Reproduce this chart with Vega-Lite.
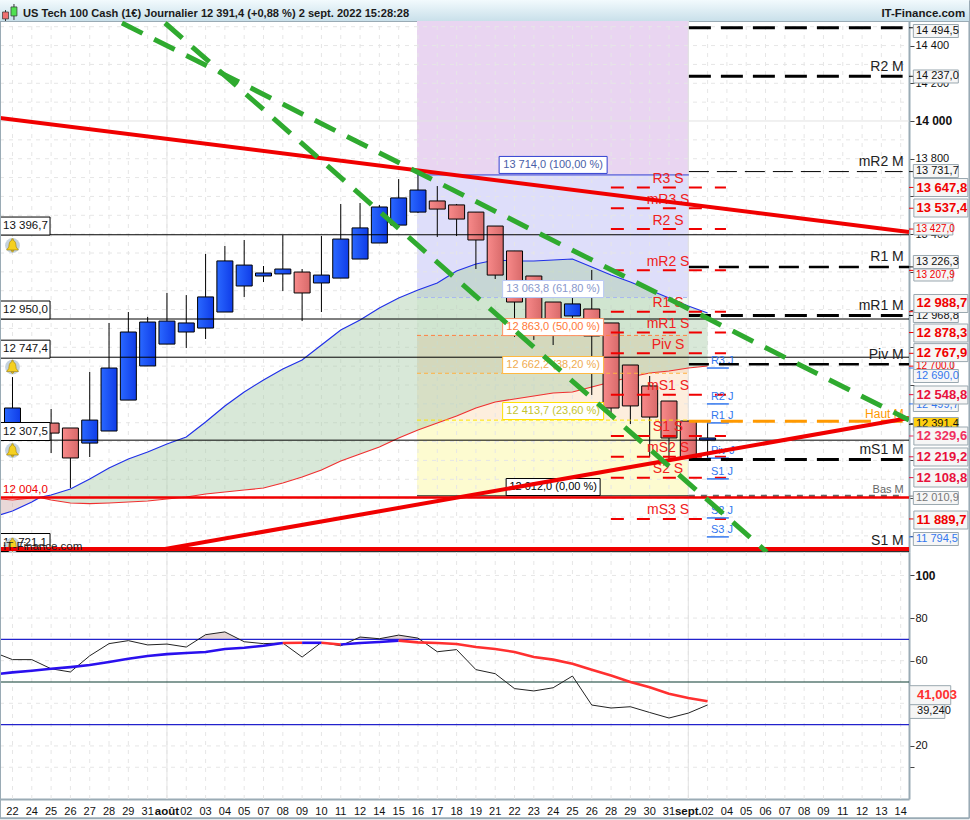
{
  "$schema": "https://vega.github.io/schema/vega-lite/v6.json",
  "background": "white",
  "padding": {"left": -6, "top": -1, "right": 0, "bottom": 0},
  "spacing": 0,
  "bounds": "flush",
  "resolve": {"scale": {"color": "independent"}},
  "config": {
    "view": {"stroke": null},
    "text": {"font": "Liberation Sans"},
    "axis": {"labelFont": "Liberation Sans"}
  },
  "datasets": {
    "slots": [{"i":0,"label":"22"},{"i":1,"label":"24"},{"i":2,"label":"25"},{"i":3,"label":"26"},{"i":4,"label":"27"},{"i":5,"label":"28"},{"i":6,"label":"29"},{"i":7,"label":"31"},{"i":8,"label":"août"},{"i":9,"label":"02"},{"i":10,"label":"03"},{"i":11,"label":"04"},{"i":12,"label":"05"},{"i":13,"label":"07"},{"i":14,"label":"08"},{"i":15,"label":"09"},{"i":16,"label":"10"},{"i":17,"label":"11"},{"i":18,"label":"12"},{"i":19,"label":"14"},{"i":20,"label":"15"},{"i":21,"label":"16"},{"i":22,"label":"17"},{"i":23,"label":"18"},{"i":24,"label":"19"},{"i":25,"label":"21"},{"i":26,"label":"22"},{"i":27,"label":"23"},{"i":28,"label":"24"},{"i":29,"label":"25"},{"i":30,"label":"26"},{"i":31,"label":"28"},{"i":32,"label":"29"},{"i":33,"label":"30"},{"i":34,"label":"31"},{"i":35,"label":"sept."},{"i":36,"label":"02"},{"i":37,"label":"04"},{"i":38,"label":"05"},{"i":39,"label":"06"},{"i":40,"label":"07"},{"i":41,"label":"08"},{"i":42,"label":"09"},{"i":43,"label":"11"},{"i":44,"label":"12"},{"i":45,"label":"13"},{"i":46,"label":"14"}],
    "candles": [
      {"i":0,"high":12642,"low":12361,"open":12388,"close":12478},
      {"i":1,"high":12404,"low":12330,"open":12393,"close":12351},
      {"i":2,"high":12473,"low":12239,"open":12398,"close":12345},
      {"i":3,"high":12372,"low":12054,"open":12372,"close":12213},
      {"i":4,"high":12669,"low":12218,"open":12292,"close":12414},
      {"i":5,"high":12929,"low":12356,"open":12356,"close":12690},
      {"i":6,"high":12987,"low":12520,"open":12520,"close":12881},
      {"i":7,"high":12961,"low":12701,"open":12701,"close":12934},
      {"i":8,"high":13088,"low":12817,"open":12817,"close":12939},
      {"i":9,"high":13077,"low":12796,"open":12881,"close":12929},
      {"i":10,"high":13295,"low":12844,"open":12902,"close":13067},
      {"i":11,"high":13337,"low":12987,"open":12987,"close":13258},
      {"i":12,"high":13369,"low":13067,"open":13125,"close":13236},
      {"i":13,"high":13231,"low":13146,"open":13178,"close":13194},
      {"i":14,"high":13395,"low":13098,"open":13189,"close":13215},
      {"i":15,"high":13215,"low":12939,"open":13199,"close":13088},
      {"i":16,"high":13390,"low":12987,"open":13141,"close":13183},
      {"i":17,"high":13560,"low":13167,"open":13167,"close":13374},
      {"i":18,"high":13565,"low":13268,"open":13268,"close":13433},
      {"i":19,"high":13555,"low":13353,"open":13353,"close":13544},
      {"i":20,"high":13692,"low":13448,"open":13448,"close":13592},
      {"i":21,"high":13724,"low":13512,"open":13517,"close":13634},
      {"i":22,"high":13655,"low":13385,"open":13576,"close":13533},
      {"i":23,"high":13560,"low":13390,"open":13555,"close":13480},
      {"i":24,"high":13517,"low":13215,"open":13517,"close":13369},
      {"i":25,"high":13443,"low":13162,"open":13443,"close":13183},
      {"i":26,"high":13311,"low":12855,"open":13311,"close":13040},
      {"i":27,"high":13178,"low":12839,"open":13178,"close":12945},
      {"i":28,"high":13040,"low":12812,"open":13040,"close":12945},
      {"i":29,"high":13114,"low":12892,"open":12966,"close":13030},
      {"i":30,"high":13210,"low":12547,"open":13003,"close":12860},
      {"i":31,"high":12929,"low":12425,"open":12929,"close":12478},
      {"i":32,"high":12706,"low":12393,"open":12706,"close":12489},
      {"i":33,"high":12648,"low":12218,"open":12595,"close":12430},
      {"i":34,"high":12515,"low":12202,"open":12515,"close":12319},
      {"i":35,"high":12409,"low":12213,"open":12409,"close":12213},
      {"i":36,"high":12409,"low":12202,"open":12308,"close":12319}
    ],
    "averages": [
      {"i":-0.647,"blue":11910.6,"red":11995.5},{"i":0,"blue":11931.8,"red":11990.2},{"i":1,"blue":11979.5,"red":12000.8},{"i":1.42,"blue":12004,"red":12004},
      {"i":2,"blue":12016.7,"red":11990.2},{"i":3,"blue":12048.5,"red":11974.3},{"i":4,"blue":12101.5,"red":11971},{"i":5,"blue":12159.9,"red":11974.3},
      {"i":6,"blue":12207.6,"red":11979.5},{"i":7,"blue":12244.7,"red":11984.8},{"i":8,"blue":12287.2,"red":11995.5},{"i":9,"blue":12324.3,"red":12006.1},
      {"i":10,"blue":12403.8,"red":12022},{"i":11,"blue":12488.7,"red":12032.6},{"i":12,"blue":12562.9,"red":12043.2},{"i":13,"blue":12626.5,"red":12053.8},
      {"i":14,"blue":12684.9,"red":12080.3},{"i":15,"blue":12732.6,"red":12112.1},{"i":16,"blue":12812.1,"red":12149.2},{"i":17,"blue":12891.7,"red":12197},
      {"i":18,"blue":12944.7,"red":12234.1},{"i":19,"blue":13008.3,"red":12271.2},{"i":20,"blue":13061.4,"red":12319},{"i":21,"blue":13103.8,"red":12361.4},
      {"i":22,"blue":13140.9,"red":12398.5},{"i":23,"blue":13204.6,"red":12435.6},{"i":24,"blue":13241.7,"red":12478},{"i":25,"blue":13262.9,"red":12509.9},
      {"i":26,"blue":13257.6,"red":12525.8},{"i":27,"blue":13257.6,"red":12541.7},{"i":28,"blue":13262.9,"red":12557.6},{"i":29,"blue":13268.2,"red":12562.9},
      {"i":30,"blue":13225.8,"red":12589.4},{"i":31,"blue":13183.3,"red":12615.9},{"i":32,"blue":13146.2,"red":12642.4},{"i":33,"blue":13103.8,"red":12663.6},
      {"i":34,"blue":13061.4,"red":12674.2},{"i":35,"blue":13018.9,"red":12690.1},{"i":36,"blue":12981.8,"red":12700.7}
    ],
    "fibZones": [
      {"kind":"z0","p":13714,"p2":14530},
      {"kind":"z1","p":13063.8,"p2":13714},
      {"kind":"z2","p":12863,"p2":13063.8},
      {"kind":"z3","p":12662.2,"p2":12863},
      {"kind":"z4","p":12413.7,"p2":12662.2},
      {"kind":"z5","p":12012,"p2":12413.7}
    ],
    "fibLevels": [
      {"kind":"f100","p":13714},{"kind":"f618","p":13063.8},{"kind":"f50","p":12863},{"kind":"f382","p":12662.2},{"kind":"f236","p":12413.7},{"kind":"f0","p":12012}
    ],
    "fibLabels": [
      {"label":"13 714,0 (100,00 %)","p":13767,"kind":"f100"},
      {"label":"13 063,8 (61,80 %)","p":13109,"kind":"f618"},
      {"label":"12 863,0 (50,00 %)","p":12907,"kind":"f50"},
      {"label":"12 662,2 (38,20 %)","p":12706,"kind":"f382"},
      {"label":"12 413,7 (23,60 %)","p":12462,"kind":"f236"},
      {"label":"12 012,0 (0,00 %)","p":12059,"kind":"f0"}
    ],
    "weekly": [
      {"label":"R3 S","p":13647.8},{"label":"mR3 S","p":13537.4},{"label":"R2 S","p":13427},{"label":"mR2 S","p":13207.9},
      {"label":"R1 S","p":12988.7},{"label":"mR1 S","p":12878.3},{"label":"Piv S","p":12767.9},{"label":"mS1 S","p":12548.8},
      {"label":"S1 S","p":12329.6},{"label":"mS2 S","p":12219.2},{"label":"S2 S","p":12108.8},{"label":"mS3 S","p":11889.7}
    ],
    "daily": [
      {"label":"R3 J","p":12690},{"label":"R2 J","p":12499.7},{"label":"R1 J","p":12399},{"label":"Piv J","p":12212},
      {"label":"S1 J","p":12102},{"label":"S2 J","p":11895},{"label":"S3 J","p":11794.5}
    ],
    "monthly": [
      {"label":"","p":14494.5,"style":"wide"},{"label":"R2 M","p":14237,"style":"wide"},{"label":"mR2 M","p":13731.7,"style":"thin"},
      {"label":"R1 M","p":13226.3,"style":"mid"},{"label":"mR1 M","p":12968.8,"style":"wide"},{"label":"Piv M","p":12710,"style":"mid"},
      {"label":"mS1 M","p":12205,"style":"wide"},{"label":"S1 M","p":11721.1,"style":"none"}
    ],
    "solidLevels": [{"p":13396.7},{"p":12950},{"p":12747.4},{"p":12307.5},{"p":11716}],
    "leftTags": [
      {"label":"13 396,7","p":13443},{"label":"12 950,0","p":12997.7},{"label":"12 747,4","p":12790},{"label":"12 307,5","p":12353.4},{"label":"11 721,1","p":11764.7}
    ],
    "bells": [{"p":13339.7},{"p":12695},{"p":12252.6},{"p":11752}],
    "trends": [
      {"line":"upper","i":-0.647,"p":14015.9},{"line":"upper","i":46.43,"p":13411.4},
      {"line":"lower","i":7.9,"p":11730},{"line":"lower","i":46.43,"p":12425}
    ],
    "greens": [
      {"line":"a","i":5.67,"p":14519.7},{"line":"a","i":46.43,"p":12414.4},
      {"line":"b","i":7.9,"p":14519.7},{"line":"b","i":39.07,"p":11714}
    ],
    "tags": [
      {"label":"13 427,0","p":13427.3,"level":13427,"kind":"red","size":"small"},
      {"label":"13 207,9","p":13183.3,"level":13207.9,"kind":"red","size":"small"},
      {"label":"12 700,0","p":12700.7,"level":12700,"kind":"red","size":"small"},
      {"label":"14 494,5","p":14477.3,"level":14494.5,"kind":"black","size":"regular"},
      {"label":"14 237,0","p":14236,"level":14237,"kind":"black","size":"regular"},
      {"label":"13 731,7","p":13734.8,"level":13731.7,"kind":"black","size":"regular"},
      {"label":"13 226,3","p":13252.3,"level":13226.3,"kind":"black","size":"regular"},
      {"label":"12 968,8","p":12965.9,"level":12968.8,"kind":"black","size":"regular"},
      {"label":"12 690,0","p":12647.7,"level":12690,"kind":"blue","size":"regular"},
      {"label":"12 499,7","p":12493.9,"level":12499.7,"kind":"blue","size":"regular"},
      {"label":"12 010,9","p":12000.8,"level":12010.9,"kind":"grey","size":"regular"},
      {"label":"11 794,5","p":11783.3,"level":11794.5,"kind":"blue","size":"regular"},
      {"label":"12 391,4","p":12393.2,"level":12391.4,"kind":"black","size":"gold"},
      {"label":"13 647,8","p":13647.3,"level":13647.8,"kind":"red","size":"bold"},
      {"label":"13 537,4","p":13538.6,"level":13537.4,"kind":"red","size":"bold"},
      {"label":"12 988,7","p":13032.2,"level":12988.7,"kind":"red","size":"bold"},
      {"label":"12 878,3","p":12875.7,"level":12878.3,"kind":"red","size":"bold"},
      {"label":"12 767,9","p":12771.8,"level":12767.9,"kind":"red","size":"bold"},
      {"label":"12 548,8","p":12547,"level":12548.8,"kind":"crimson","size":"bold"},
      {"label":"12 329,6","p":12329.5,"level":12329.6,"kind":"pink","size":"bold"},
      {"label":"12 219,2","p":12218.2,"level":12219.2,"kind":"crimson","size":"bold"},
      {"label":"12 108,8","p":12106.8,"level":12108.8,"kind":"crimson","size":"bold"},
      {"label":"11 889,7","p":11884,"level":11889.7,"kind":"red","size":"bold"}
    ],
    "rsi": [
      {"i":-0.647,"p":62.8},{"i":0,"p":60.5},{"i":1,"p":60.5},{"i":2,"p":56.2},{"i":3,"p":54.7},{"i":4,"p":62.3},{"i":5,"p":68},{"i":6,"p":69.4},
      {"i":7,"p":67.4},{"i":8,"p":67.8},{"i":9,"p":66.4},{"i":10,"p":72.2},{"i":11,"p":73.5},{"i":12,"p":68.9},{"i":13,"p":68},{"i":14,"p":68.3},
      {"i":15,"p":61.7},{"i":16,"p":68.6},{"i":17,"p":67},{"i":18,"p":71.1},{"i":19,"p":70.3},{"i":20,"p":72},{"i":21,"p":70.6},{"i":22,"p":64.2},
      {"i":23,"p":65.2},{"i":24,"p":55.8},{"i":25,"p":53.9},{"i":26,"p":46.9},{"i":27,"p":45.8},{"i":28,"p":47.3},{"i":29,"p":52.8},{"i":30,"p":39.2},
      {"i":31,"p":37.8},{"i":32,"p":38.4},{"i":33,"p":35.7},{"i":34,"p":33.1},{"i":35,"p":35.4},{"i":36,"p":39.24}
    ],
    "rsiOver": [
      {"seg":"a","i":9.6,"p":70},{"seg":"a","i":10,"p":72.2},{"seg":"a","i":11,"p":73.5},{"seg":"a","i":11.76,"p":70},
      {"seg":"b","i":17.75,"p":70},{"seg":"b","i":18,"p":71.1},{"seg":"b","i":19,"p":70.3},{"seg":"b","i":20,"p":72},{"seg":"b","i":21,"p":70.6},{"seg":"b","i":21.1,"p":70}
    ],
    "signal": [
      {"seg":1,"kind":"blue","i":-0.647,"p":53.9},{"seg":1,"kind":"blue","i":0,"p":54.5},{"seg":1,"kind":"blue","i":1,"p":55.3},{"seg":1,"kind":"blue","i":2,"p":56.2},
      {"seg":1,"kind":"blue","i":3,"p":57},{"seg":1,"kind":"blue","i":4,"p":58},{"seg":1,"kind":"blue","i":5,"p":59.4},{"seg":1,"kind":"blue","i":6,"p":60.9},
      {"seg":1,"kind":"blue","i":7,"p":62.2},{"seg":1,"kind":"blue","i":8,"p":63.1},{"seg":1,"kind":"blue","i":9,"p":63.6},{"seg":1,"kind":"blue","i":10,"p":64.1},
      {"seg":1,"kind":"blue","i":11,"p":65.5},{"seg":1,"kind":"blue","i":12,"p":66.1},{"seg":1,"kind":"blue","i":13,"p":67},{"seg":1,"kind":"blue","i":14,"p":68.3},
      {"seg":2,"kind":"red","i":14,"p":68.3},{"seg":2,"kind":"red","i":15,"p":68.4},
      {"seg":3,"kind":"blue","i":15,"p":68.4},{"seg":3,"kind":"blue","i":16,"p":68.4},
      {"seg":4,"kind":"red","i":16,"p":68.4},{"seg":4,"kind":"red","i":17,"p":67.6},
      {"seg":5,"kind":"blue","i":17,"p":67.6},{"seg":5,"kind":"blue","i":18,"p":68.3},{"seg":5,"kind":"blue","i":19,"p":68.8},{"seg":5,"kind":"blue","i":20,"p":69.4},
      {"seg":6,"kind":"red","i":20,"p":69.4},{"seg":6,"kind":"red","i":21,"p":68.6},{"seg":6,"kind":"red","i":22,"p":68.3},{"seg":6,"kind":"red","i":23,"p":67.8},
      {"seg":6,"kind":"red","i":24,"p":66.4},{"seg":6,"kind":"red","i":25,"p":65.5},{"seg":6,"kind":"red","i":26,"p":64.1},{"seg":6,"kind":"red","i":27,"p":61.7},
      {"seg":6,"kind":"red","i":28,"p":60.5},{"seg":6,"kind":"red","i":29,"p":58.6},{"seg":6,"kind":"red","i":30,"p":55.8},{"seg":6,"kind":"red","i":31,"p":53},
      {"seg":6,"kind":"red","i":32,"p":50},{"seg":6,"kind":"red","i":33,"p":47.5},{"seg":6,"kind":"red","i":34,"p":44.5},{"seg":6,"kind":"red","i":35,"p":42.5},
      {"seg":6,"kind":"red","i":36,"p":41.003}
    ]
  },
  "vconcat": [
    {
      "width": 969,
      "height": 21,
      "view": {"stroke": "#9aabb5"},
      "layer": [
        {
          "data": {"values": [{"from": 0, "to": 100}]},
          "mark": {"type": "rect", "color": {"gradient": "linear", "x1": 0, "y1": 0, "x2": 0, "y2": 1, "stops": [{"offset": 0, "color": "#f2fafd"}, {"offset": 1, "color": "#c9e0ea"}]}},
          "encoding": {
            "x": {"field": "from", "type": "quantitative", "scale": {"domain": [0, 100], "nice": false, "zero": false, "padding": 0}, "axis": null},
            "x2": {"field": "to"}
          }
        },
        {
          "data": {"values": [{"pos": 0.57, "low": 0, "high": 52}, {"pos": 1.44, "low": 5, "high": 81}]},
          "mark": {"type": "rule", "color": "#333333"},
          "encoding": {
            "x": {"field": "pos", "type": "quantitative", "axis": null},
            "y": {"field": "low", "type": "quantitative", "scale": {"domain": [0, 100]}, "axis": null},
            "y2": {"field": "high"}
          }
        },
        {
          "data": {"values": [{"pos": 0.57, "open": 43, "close": 10, "kind": "r"}, {"pos": 1.44, "open": 67, "close": 24, "kind": "g"}]},
          "mark": {"type": "bar", "size": 6, "stroke": "#333333", "strokeWidth": 0.7},
          "encoding": {
            "x": {"field": "pos", "type": "quantitative", "axis": null},
            "y": {"field": "open", "type": "quantitative", "axis": null},
            "y2": {"field": "close"},
            "color": {"field": "kind", "type": "nominal", "scale": {"domain": ["r", "g"], "range": ["#f07070", "#50e050"]}, "legend": null}
          }
        },
        {
          "data": {"values": [{"pos": 2.37, "label": "US Tech 100 Cash (1€) Journalier 12 391,4 (+0,88 %) 2 sept. 2022 15:28:28"}]},
          "mark": {"type": "text", "align": "left", "baseline": "middle", "fontWeight": "bold", "fontSize": 11.1, "color": "#1a1a1a", "dy": 3.5},
          "encoding": {"x": {"field": "pos", "type": "quantitative", "axis": null}, "text": {"field": "label"}}
        },
        {
          "data": {"values": [{"pos": 99.6, "label": "IT-Finance.com"}]},
          "mark": {"type": "text", "align": "right", "baseline": "middle", "fontWeight": "bold", "fontSize": 11.5, "color": "#1a1a1a", "dy": 3.5},
          "encoding": {"x": {"field": "pos", "type": "quantitative", "axis": null}, "text": {"field": "label"}}
        }
      ]
    },
    {
      "width": 909,
      "height": 531,
      "layer": [
        {
          "data": {"name": "fibZones"},
          "mark": {"type": "rect", "opacity": 1},
          "encoding": {
            "x": {"datum": 20.95, "type": "quantitative", "scale": {"domain": [-0.647, 46.43], "nice": false, "zero": false, "padding": 0}, "axis": null},
            "x2": {"datum": 35.03},
            "y": {
              "field": "p",
              "type": "quantitative",
              "scale": {"domain": [11714.4, 14530.3], "nice": false, "zero": false},
              "axis": {
                "orient": "right",
                "title": null,
                "grid": false,
                "values": [14400, 14200, 14000, 13800, 13600, 13400, 13200, 13000, 12800, 12600, 12400, 12200, 12000, 11800],
                "labelExpr": "indexof([14400,14200,14000,13800,13400],datum.value)<0?'':floor(datum.value/1000)+' '+slice(toString(datum.value),-3)",
                "labelFontSize": {"condition": {"test": "datum.value==14000", "value": 12}, "value": 11},
                "labelFontWeight": {"condition": {"test": "datum.value==14000", "value": "bold"}, "value": "normal"},
                "labelColor": "#111111",
                "labelPadding": 1,
                "labelOverlap": false,
                "labelBound": false,
                "tickSize": 5,
                "tickColor": "#444444",
                "domainColor": "#9aabb5",
                "domainWidth": 2
              }
            },
            "y2": {"field": "p2"},
            "color": {
              "field": "kind",
              "type": "nominal",
              "legend": null,
              "scale": {
                "domain": ["z0", "z1", "z2", "z3", "z4", "z5", "f100", "f618", "f50", "f382", "f236", "f0", "red", "crimson", "pink", "black", "blue", "grey"],
                "range": ["#e9d5f1", "#dedefa", "#f0faf0", "#f8e2cc", "#fdeedd", "#fdfbd0", "#3040d0", "#a8b8f0", "#ff8040", "#ffb040", "#ffe000", "#000000", "#f00000", "#e8103c", "#f03060", "#111111", "#3377ee", "#777777"]
              }
            }
          }
        },
        {
          "data": {"values": [{"p":11800},{"p":11900},{"p":12000},{"p":12100},{"p":12200},{"p":12300},{"p":12400},{"p":12500},{"p":12600},{"p":12700},{"p":12800},{"p":12900},{"p":13000},{"p":13100},{"p":13200},{"p":13300},{"p":13400},{"p":13500},{"p":13600},{"p":13700},{"p":13800},{"p":13900},{"p":14100},{"p":14200},{"p":14300},{"p":14400},{"p":14500}]},
          "mark": {"type": "rule", "color": "#e6e6e6", "strokeDash": [4, 5]},
          "encoding": {"x": {"datum": -0.647, "type": "quantitative", "axis": null}, "x2": {"datum": 46.43}, "y": {"field": "p", "type": "quantitative"}}
        },
        {
          "data": {"values": [{"p": 14000}]},
          "mark": {"type": "rule", "color": "#e2e2e2"},
          "encoding": {"x": {"datum": -0.647, "type": "quantitative", "axis": null}, "x2": {"datum": 46.43}, "y": {"field": "p", "type": "quantitative"}}
        },
        {
          "data": {"name": "slots"},
          "mark": {"type": "rule", "color": "#e6e6e6", "strokeDash": [4, 5]},
          "encoding": {"x": {"field": "i", "type": "quantitative", "axis": null}, "y": {"datum": 11714.4, "type": "quantitative"}, "y2": {"datum": 14530.3}}
        },
        {
          "data": {"values": [{"i": 8}, {"i": 35}]},
          "mark": {"type": "rule", "color": "#e2e2e2"},
          "encoding": {"x": {"field": "i", "type": "quantitative", "axis": null}, "y": {"datum": 11714.4, "type": "quantitative"}, "y2": {"datum": 14530.3}}
        },
        {
          "data": {"name": "averages"},
          "transform": [{"filter": "datum.i >= 1.42"}],
          "mark": {"type": "area", "color": "#a8cca8", "opacity": 0.45},
          "encoding": {"x": {"field": "i", "type": "quantitative", "axis": null}, "y": {"field": "blue", "type": "quantitative"}, "y2": {"field": "red"}}
        },
        {
          "data": {"name": "averages"},
          "transform": [{"filter": "datum.i <= 1.42"}],
          "mark": {"type": "area", "color": "#cfa8a8", "opacity": 0.45},
          "encoding": {"x": {"field": "i", "type": "quantitative", "axis": null}, "y": {"field": "blue", "type": "quantitative"}, "y2": {"field": "red"}}
        },
        {
          "data": {"name": "averages"},
          "mark": {"type": "line", "color": "#2030e8", "strokeWidth": 1.2},
          "encoding": {"x": {"field": "i", "type": "quantitative", "axis": null}, "y": {"field": "blue", "type": "quantitative"}}
        },
        {
          "data": {"name": "averages"},
          "mark": {"type": "line", "color": "#f03030", "strokeWidth": 1.2},
          "encoding": {"x": {"field": "i", "type": "quantitative", "axis": null}, "y": {"field": "red", "type": "quantitative"}}
        },
        {
          "data": {"name": "candles"},
          "mark": {"type": "rule", "color": "#000000", "strokeWidth": 1},
          "encoding": {"x": {"field": "i", "type": "quantitative", "axis": null}, "y": {"field": "low", "type": "quantitative"}, "y2": {"field": "high"}}
        },
        {
          "data": {"name": "candles"},
          "transform": [{"filter": "datum.close > datum.open"}],
          "mark": {"type": "bar", "size": 16, "stroke": "#000000", "strokeWidth": 1, "color": {"gradient": "linear", "x1": 0, "y1": 0, "x2": 1, "y2": 0, "stops": [{"offset": 0, "color": "#2a68ff"}, {"offset": 1, "color": "#0f3ce8"}]}},
          "encoding": {"x": {"field": "i", "type": "quantitative", "axis": null}, "y": {"field": "open", "type": "quantitative"}, "y2": {"field": "close"}}
        },
        {
          "data": {"name": "candles"},
          "transform": [{"filter": "datum.close < datum.open"}],
          "mark": {"type": "bar", "size": 16, "stroke": "#000000", "strokeWidth": 1, "color": {"gradient": "linear", "x1": 0, "y1": 0, "x2": 1, "y2": 0, "stops": [{"offset": 0, "color": "#f88a8a"}, {"offset": 1, "color": "#d86a6a"}]}},
          "encoding": {"x": {"field": "i", "type": "quantitative", "axis": null}, "y": {"field": "open", "type": "quantitative"}, "y2": {"field": "close"}}
        },
        {
          "data": {"name": "solidLevels"},
          "mark": {"type": "rule", "color": "#000000", "strokeWidth": 1},
          "encoding": {"x": {"datum": -0.647, "type": "quantitative", "axis": null}, "x2": {"datum": 46.43}, "y": {"field": "p", "type": "quantitative"}}
        },
        {
          "data": {"name": "fibLevels"},
          "transform": [{"filter": "datum.kind == 'f100' || datum.kind == 'f0'"}],
          "mark": {"type": "rule", "strokeWidth": 1},
          "encoding": {"x": {"datum": 20.95, "type": "quantitative", "axis": null}, "x2": {"datum": 35.03}, "y": {"field": "p", "type": "quantitative"}, "color": {"field": "kind", "type": "nominal", "legend": null}}
        },
        {
          "data": {"name": "fibLevels"},
          "transform": [{"filter": "datum.kind != 'f100' && datum.kind != 'f0'"}],
          "mark": {"type": "rule", "strokeWidth": 1, "strokeDash": [4, 3]},
          "encoding": {"x": {"datum": 20.95, "type": "quantitative", "axis": null}, "x2": {"datum": 35.03}, "y": {"field": "p", "type": "quantitative"}, "color": {"field": "kind", "type": "nominal", "legend": null}}
        },
        {
          "data": {"name": "fibLabels"},
          "transform": [{"filter": "datum.kind != 'f0' && datum.kind != 'f100'"}],
          "mark": {"type": "tick", "orient": "horizontal", "size": 101, "thickness": 17, "fill": "#ffffff", "opacity": 1, "strokeWidth": 1},
          "encoding": {"x": {"datum": 28, "type": "quantitative", "axis": null}, "y": {"field": "p", "type": "quantitative"}, "stroke": {"field": "kind", "type": "nominal", "legend": null, "scale": {"domain": ["f618", "f50", "f382", "f236"], "range": ["#b8c8f4", "#ff9060", "#ffb840", "#ffe000"]}}}
        },
        {
          "data": {"name": "fibLabels"},
          "transform": [{"filter": "datum.kind == 'f100'"}],
          "mark": {"type": "tick", "orient": "horizontal", "size": 108, "thickness": 17, "fill": "#ffffff", "stroke": "#3040d0", "opacity": 1, "strokeWidth": 1},
          "encoding": {"x": {"datum": 28, "type": "quantitative", "axis": null}, "y": {"field": "p", "type": "quantitative"}}
        },
        {
          "data": {"name": "fibLabels"},
          "transform": [{"filter": "datum.kind == 'f0'"}],
          "mark": {"type": "tick", "orient": "horizontal", "size": 94, "thickness": 17, "fill": "#ffffff", "stroke": "#000000", "opacity": 1, "strokeWidth": 1},
          "encoding": {"x": {"datum": 28, "type": "quantitative", "axis": null}, "y": {"field": "p", "type": "quantitative"}}
        },
        {
          "data": {"name": "fibLabels"},
          "mark": {"type": "text", "fontSize": 11, "baseline": "middle", "align": "center"},
          "encoding": {
            "x": {"datum": 28, "type": "quantitative", "axis": null},
            "y": {"field": "p", "type": "quantitative"},
            "text": {"field": "label"},
            "fill": {"field": "kind", "type": "nominal", "legend": null, "scale": {"domain": ["f100", "f618", "f50", "f382", "f236", "f0"], "range": ["#4a5ea8", "#8898cc", "#ff7838", "#f0ac50", "#c4c430", "#000000"]}}
          }
        },
        {
          "data": {"name": "weekly"},
          "mark": {"type": "rule", "color": "#f00000", "strokeWidth": 2, "strokeDash": [13, 13]},
          "encoding": {"x": {"datum": 30.99, "type": "quantitative", "axis": null}, "x2": {"datum": 36.95}, "y": {"field": "p", "type": "quantitative"}}
        },
        {
          "data": {"name": "weekly"},
          "mark": {"type": "text", "color": "#f02020", "fontSize": 14, "align": "center", "baseline": "middle", "dy": -8.5},
          "encoding": {"x": {"datum": 33.95, "type": "quantitative", "axis": null}, "y": {"field": "p", "type": "quantitative"}, "text": {"field": "label"}}
        },
        {
          "data": {"name": "daily"},
          "mark": {"type": "rule", "color": "#3377ee", "strokeWidth": 1.5},
          "encoding": {"x": {"datum": 35.96, "type": "quantitative", "axis": null}, "x2": {"datum": 37.1}, "y": {"field": "p", "type": "quantitative"}}
        },
        {
          "data": {"name": "daily"},
          "mark": {"type": "text", "color": "#3377ee", "fontSize": 11, "align": "left", "baseline": "middle", "dy": -7},
          "encoding": {"x": {"datum": 36.17, "type": "quantitative", "axis": null}, "y": {"field": "p", "type": "quantitative"}, "text": {"field": "label"}}
        },
        {
          "data": {"name": "monthly"},
          "transform": [{"filter": "datum.style == 'wide'"}],
          "mark": {"type": "rule", "color": "#000000", "strokeWidth": 3, "strokeDash": [22, 10]},
          "encoding": {"x": {"datum": 35.03, "type": "quantitative", "axis": null}, "x2": {"datum": 46.1}, "y": {"field": "p", "type": "quantitative"}}
        },
        {
          "data": {"name": "monthly"},
          "transform": [{"filter": "datum.style == 'mid'"}],
          "mark": {"type": "rule", "color": "#000000", "strokeWidth": 2.5, "strokeDash": [20, 10]},
          "encoding": {"x": {"datum": 35.03, "type": "quantitative", "axis": null}, "x2": {"datum": 46.43}, "y": {"field": "p", "type": "quantitative"}}
        },
        {
          "data": {"name": "monthly"},
          "transform": [{"filter": "datum.style == 'thin'"}],
          "mark": {"type": "rule", "color": "#000000", "strokeWidth": 1, "strokeDash": [20, 8]},
          "encoding": {"x": {"datum": 35.03, "type": "quantitative", "axis": null}, "x2": {"datum": 46.1}, "y": {"field": "p", "type": "quantitative"}}
        },
        {
          "data": {"values": [{"p": 12408}]},
          "mark": {"type": "rule", "color": "#ff9900", "strokeWidth": 3, "strokeDash": [22, 10]},
          "encoding": {"x": {"datum": 35.03, "type": "quantitative", "axis": null}, "x2": {"datum": 46.1}, "y": {"field": "p", "type": "quantitative"}}
        },
        {
          "data": {"values": [{"p": 12010.9}]},
          "mark": {"type": "rule", "color": "#666666", "strokeWidth": 2.5, "strokeDash": [6, 6]},
          "encoding": {"x": {"datum": 35.03, "type": "quantitative", "axis": null}, "x2": {"datum": 46.1}, "y": {"field": "p", "type": "quantitative"}}
        },
        {
          "data": {"name": "monthly"},
          "mark": {"type": "text", "color": "#222222", "fontSize": 14, "align": "right", "baseline": "middle", "dy": -9.5},
          "encoding": {"x": {"datum": 46.16, "type": "quantitative", "axis": null}, "y": {"field": "p", "type": "quantitative"}, "text": {"field": "label"}}
        },
        {
          "data": {"values": [{"p": 12408, "label": "Haut M"}]},
          "mark": {"type": "text", "color": "#ff9900", "fontSize": 12, "align": "right", "baseline": "middle", "dy": -7},
          "encoding": {"x": {"datum": 46.16, "type": "quantitative", "axis": null}, "y": {"field": "p", "type": "quantitative"}, "text": {"field": "label"}}
        },
        {
          "data": {"values": [{"p": 12010.9, "label": "Bas M"}]},
          "mark": {"type": "text", "color": "#666666", "fontSize": 11, "align": "right", "baseline": "middle", "dy": -6.5},
          "encoding": {"x": {"datum": 46.16, "type": "quantitative", "axis": null}, "y": {"field": "p", "type": "quantitative"}, "text": {"field": "label"}}
        },
        {
          "data": {"name": "tags"},
          "mark": {"type": "rule", "strokeWidth": 1},
          "encoding": {
            "x": {"datum": 46.43, "type": "quantitative", "axis": null},
            "x2": {"datum": 46.69},
            "y": {"field": "level", "type": "quantitative"},
            "color": {"field": "kind", "type": "nominal", "legend": null}
          }
        },
        {
          "data": {"name": "tags"},
          "transform": [{"filter": "datum.size == 'small'"}],
          "mark": {"type": "tick", "orient": "horizontal", "size": 39, "thickness": 12, "fill": "#f6f6f6", "stroke": "#9aa8b0", "opacity": 1},
          "encoding": {"x": {"datum": 47.69, "type": "quantitative", "axis": null}, "y": {"field": "p", "type": "quantitative"}}
        },
        {
          "data": {"name": "tags"},
          "transform": [{"filter": "datum.size == 'small'"}],
          "mark": {"type": "text", "fontSize": 10, "align": "left", "baseline": "middle"},
          "encoding": {"x": {"datum": 46.79, "type": "quantitative", "axis": null}, "y": {"field": "p", "type": "quantitative"}, "text": {"field": "label"}, "color": {"field": "kind", "type": "nominal", "legend": null}}
        },
        {
          "data": {"name": "tags"},
          "transform": [{"filter": "datum.size == 'regular'"}],
          "mark": {"type": "tick", "orient": "horizontal", "size": 45, "thickness": 13, "fill": "#f6f6f6", "stroke": "#9aa8b0", "opacity": 1},
          "encoding": {"x": {"datum": 47.82, "type": "quantitative", "axis": null}, "y": {"field": "p", "type": "quantitative"}}
        },
        {
          "data": {"name": "tags"},
          "transform": [{"filter": "datum.size == 'regular'"}],
          "mark": {"type": "text", "fontSize": 11, "align": "left", "baseline": "middle"},
          "encoding": {"x": {"datum": 46.79, "type": "quantitative", "axis": null}, "y": {"field": "p", "type": "quantitative"}, "text": {"field": "label"}, "color": {"field": "kind", "type": "nominal", "legend": null}}
        },
        {
          "data": {"name": "tags"},
          "transform": [{"filter": "datum.size == 'gold'"}],
          "mark": {"type": "tick", "orient": "horizontal", "size": 45, "thickness": 13, "fill": "#ffd010", "stroke": "#9aa8b0", "opacity": 1},
          "encoding": {"x": {"datum": 47.82, "type": "quantitative", "axis": null}, "y": {"field": "p", "type": "quantitative"}}
        },
        {
          "data": {"name": "tags"},
          "transform": [{"filter": "datum.size == 'gold'"}],
          "mark": {"type": "text", "fontSize": 11, "align": "left", "baseline": "middle"},
          "encoding": {"x": {"datum": 46.79, "type": "quantitative", "axis": null}, "y": {"field": "p", "type": "quantitative"}, "text": {"field": "label"}, "color": {"field": "kind", "type": "nominal", "legend": null}}
        },
        {
          "data": {"name": "tags"},
          "transform": [{"filter": "datum.size == 'bold'"}],
          "mark": {"type": "tick", "orient": "horizontal", "size": 54, "thickness": 18, "fill": "#f6f6f6", "stroke": "#9aa8b0", "opacity": 1},
          "encoding": {"x": {"datum": 48.08, "type": "quantitative", "axis": null}, "y": {"field": "p", "type": "quantitative"}}
        },
        {
          "data": {"name": "tags"},
          "transform": [{"filter": "datum.size == 'bold'"}],
          "mark": {"type": "text", "fontSize": 13, "fontWeight": "bold", "align": "left", "baseline": "middle"},
          "encoding": {"x": {"datum": 46.82, "type": "quantitative", "axis": null}, "y": {"field": "p", "type": "quantitative"}, "text": {"field": "label"}, "color": {"field": "kind", "type": "nominal", "legend": null}}
        },
        {
          "data": {"name": "leftTags"},
          "mark": {"type": "tick", "orient": "horizontal", "size": 50, "thickness": 18, "fill": "#ffffff", "stroke": "#000000", "opacity": 1},
          "encoding": {"x": {"datum": 0.65, "type": "quantitative", "axis": null}, "y": {"field": "p", "type": "quantitative"}}
        },
        {
          "data": {"name": "leftTags"},
          "mark": {"type": "text", "fontSize": 11.5, "align": "left", "baseline": "middle", "color": "#111111"},
          "encoding": {"x": {"datum": -0.49, "type": "quantitative", "axis": null}, "y": {"field": "p", "type": "quantitative"}, "text": {"field": "label"}}
        },
        {
          "data": {"name": "bells"},
          "mark": {"type": "point", "shape": "circle", "filled": true, "size": 220, "color": "#c4d2de", "opacity": 1},
          "encoding": {"x": {"datum": 0, "type": "quantitative", "axis": null}, "y": {"field": "p", "type": "quantitative"}}
        },
        {
          "data": {"name": "bells"},
          "mark": {"type": "point", "shape": "M-0.1,-0.9 L0.1,-0.9 L0.1,-0.7 C0.45,-0.6 0.45,-0.2 0.5,0.2 L0.8,0.6 L-0.8,0.6 L-0.5,0.2 C-0.45,-0.2 -0.45,-0.6 -0.1,-0.7 Z M-0.2,0.68 L0.2,0.68 L0,0.9 Z", "filled": true, "size": 220, "color": "#f5d020", "stroke": "#a08000", "strokeWidth": 0.6, "opacity": 1},
          "encoding": {"x": {"datum": 0, "type": "quantitative", "axis": null}, "y": {"field": "p", "type": "quantitative"}}
        },
        {
          "data": {"values": [{"p": 12043, "label": "12 004,0"}]},
          "mark": {"type": "text", "color": "#f00000", "fontSize": 11.5, "align": "left", "baseline": "middle"},
          "encoding": {"x": {"datum": -0.49, "type": "quantitative", "axis": null}, "y": {"field": "p", "type": "quantitative"}, "text": {"field": "label"}}
        },
        {
          "data": {"values": [{"p": 12004}]},
          "mark": {"type": "rule", "color": "#f00000", "strokeWidth": 2.5},
          "encoding": {"x": {"datum": -0.647, "type": "quantitative", "axis": null}, "x2": {"datum": 46.43}, "y": {"field": "p", "type": "quantitative"}}
        },
        {
          "data": {"values": [{"p": 11730}]},
          "mark": {"type": "rule", "color": "#f00000", "strokeWidth": 4},
          "encoding": {"x": {"datum": -0.647, "type": "quantitative", "axis": null}, "x2": {"datum": 46.43}, "y": {"field": "p", "type": "quantitative"}}
        },
        {
          "data": {"values": [{"p": 11741, "label": "IT-Finance.com"}]},
          "mark": {"type": "text", "color": "#222222", "fontSize": 11.5, "align": "left", "baseline": "middle"},
          "encoding": {"x": {"datum": -0.49, "type": "quantitative", "axis": null}, "y": {"field": "p", "type": "quantitative"}, "text": {"field": "label"}}
        },
        {
          "data": {"name": "trends"},
          "mark": {"type": "line", "color": "#f00000", "strokeWidth": 4, "clip": true},
          "encoding": {"x": {"field": "i", "type": "quantitative", "axis": null}, "y": {"field": "p", "type": "quantitative"}, "detail": {"field": "line"}}
        },
        {
          "data": {"name": "greens"},
          "mark": {"type": "line", "color": "#2faa2f", "strokeWidth": 5, "strokeDash": [23, 13], "clip": true},
          "encoding": {"x": {"field": "i", "type": "quantitative", "axis": null}, "y": {"field": "p", "type": "quantitative"}, "detail": {"field": "line"}}
        },
        {
          "data": {"values": [{"i": -0.647}, {"i": 49.56}]},
          "mark": {"type": "rule", "color": "#9aabb5", "strokeWidth": 2},
          "encoding": {"x": {"field": "i", "type": "quantitative", "axis": null}, "y": {"datum": 11714.4, "type": "quantitative"}, "y2": {"datum": 14530.3}}
        }
      ]
    },
    {
      "width": 909,
      "height": 247,
      "layer": [
        {
          "data": {"values": [{"p": 100}, {"p": 80}, {"p": 60}, {"p": 40}, {"p": 20}, {"p": 10}]},
          "mark": {"type": "rule", "color": "#e6e6e6", "strokeDash": [4, 5]},
          "encoding": {
            "x": {
              "datum": -0.647,
              "type": "quantitative",
              "scale": {"domain": [-0.647, 46.43], "nice": false, "zero": false, "padding": 0},
              "axis": {
                "title": null,
                "grid": false,
                "ticks": false,
                "labels": false,
                "domainColor": "#9aabb5",
                "domainWidth": 2
              }
            },
            "x2": {"datum": 46.43},
            "y": {
              "field": "p",
              "type": "quantitative",
              "scale": {"domain": [-4.9, 111], "nice": false, "zero": false},
              "axis": {
                "orient": "right",
                "title": null,
                "grid": false,
                "values": [100, 80, 60, 20, 10],
                "labelExpr": "datum.value==10?'':datum.label",
                "labelFontSize": {"condition": {"test": "datum.value==100", "value": 12}, "value": 11},
                "labelFontWeight": {"condition": {"test": "datum.value==100", "value": "bold"}, "value": "normal"},
                "labelColor": "#111111",
                "labelPadding": 1,
                "labelOverlap": false,
                "labelBound": false,
                "tickSize": 5,
                "tickColor": "#444444",
                "domainColor": "#9aabb5",
                "domainWidth": 2
              }
            }
          }
        },
        {
          "data": {"name": "slots"},
          "mark": {"type": "rule", "color": "#e6e6e6", "strokeDash": [4, 5]},
          "encoding": {"x": {"field": "i", "type": "quantitative"}, "y": {"datum": -4.9, "type": "quantitative"}, "y2": {"datum": 111}}
        },
        {
          "data": {"values": [{"i": 8}, {"i": 35}]},
          "mark": {"type": "rule", "color": "#e2e2e2"},
          "encoding": {"x": {"field": "i", "type": "quantitative"}, "y": {"datum": -4.9, "type": "quantitative"}, "y2": {"datum": 111}}
        },
        {
          "data": {"name": "rsiOver"},
          "mark": {"type": "area", "color": "#e4d4d4", "opacity": 1},
          "encoding": {"x": {"field": "i", "type": "quantitative"}, "y": {"field": "p", "type": "quantitative"}, "y2": {"datum": 70}, "detail": {"field": "seg"}}
        },
        {
          "data": {"values": [{"p": 70}, {"p": 30}]},
          "mark": {"type": "rule", "color": "#2222cc", "strokeWidth": 1.2},
          "encoding": {"x": {"datum": -0.647, "type": "quantitative"}, "x2": {"datum": 46.43}, "y": {"field": "p", "type": "quantitative"}}
        },
        {
          "data": {"values": [{"p": 50}]},
          "mark": {"type": "rule", "color": "#0a3a30", "strokeWidth": 1.2},
          "encoding": {"x": {"datum": -0.647, "type": "quantitative"}, "x2": {"datum": 46.43}, "y": {"field": "p", "type": "quantitative"}}
        },
        {
          "data": {"name": "rsi"},
          "mark": {"type": "line", "color": "#222222", "strokeWidth": 1},
          "encoding": {"x": {"field": "i", "type": "quantitative"}, "y": {"field": "p", "type": "quantitative"}}
        },
        {
          "data": {"name": "signal"},
          "mark": {"type": "line", "strokeWidth": 2.6},
          "encoding": {
            "x": {"field": "i", "type": "quantitative"},
            "y": {"field": "p", "type": "quantitative"},
            "detail": {"field": "seg"},
            "color": {"field": "kind", "type": "nominal", "legend": null, "scale": {"domain": ["blue", "red"], "range": ["#2a10ee", "#ff3030"]}}
          }
        },
        {
          "data": {"values": [{"p": 39.24, "label": "39,240"}]},
          "mark": {"type": "tick", "orient": "horizontal", "size": 35, "thickness": 14, "fill": "#f6f6f6", "stroke": "#9aa8b0", "opacity": 1, "yOffset": 6.5},
          "encoding": {"x": {"datum": 47.38, "type": "quantitative"}, "y": {"field": "p", "type": "quantitative"}}
        },
        {
          "data": {"values": [{"p": 39.24, "label": "39,240"}]},
          "mark": {"type": "text", "fontSize": 11, "align": "left", "baseline": "middle", "color": "#111111", "yOffset": 6.5},
          "encoding": {"x": {"datum": 46.85, "type": "quantitative"}, "y": {"field": "p", "type": "quantitative"}, "text": {"field": "label"}}
        },
        {
          "data": {"values": [{"p": 41.003, "label": "41,003"}]},
          "mark": {"type": "tick", "orient": "horizontal", "size": 41, "thickness": 19, "fill": "#f6f6f6", "stroke": "#9aa8b0", "opacity": 1, "yOffset": -6},
          "encoding": {"x": {"datum": 47.53, "type": "quantitative"}, "y": {"field": "p", "type": "quantitative"}}
        },
        {
          "data": {"values": [{"p": 41.003, "label": "41,003"}]},
          "mark": {"type": "text", "fontSize": 13, "fontWeight": "bold", "align": "left", "baseline": "middle", "color": "#ff3030", "yOffset": -6},
          "encoding": {"x": {"datum": 46.85, "type": "quantitative"}, "y": {"field": "p", "type": "quantitative"}, "text": {"field": "label"}}
        },
        {
          "data": {"name": "slots"},
          "transform": [{"filter": "datum.i != 8 && datum.i != 35"}],
          "mark": {"type": "text", "fontSize": 11, "align": "center", "baseline": "middle", "color": "#111111", "dy": 13},
          "encoding": {"x": {"field": "i", "type": "quantitative"}, "y": {"datum": -4.9, "type": "quantitative"}, "text": {"field": "label"}}
        },
        {
          "data": {"name": "slots"},
          "transform": [{"filter": "datum.i == 8 || datum.i == 35"}],
          "mark": {"type": "text", "fontSize": 11.5, "fontWeight": "bold", "align": "center", "baseline": "middle", "color": "#111111", "dy": 13},
          "encoding": {"x": {"field": "i", "type": "quantitative"}, "y": {"datum": -4.9, "type": "quantitative"}, "text": {"field": "label"}}
        },
        {
          "data": {"values": [{"i": -0.647}, {"i": 49.56}]},
          "mark": {"type": "rule", "color": "#9aabb5", "strokeWidth": 2},
          "encoding": {"x": {"field": "i", "type": "quantitative"}, "y": {"datum": -13.9, "type": "quantitative"}, "y2": {"datum": 111}}
        },
        {
          "data": {"values": [{"p": -13.9}]},
          "mark": {"type": "rule", "color": "#9aabb5", "strokeWidth": 2},
          "encoding": {"x": {"datum": -0.647, "type": "quantitative"}, "x2": {"datum": 49.56}, "y": {"field": "p", "type": "quantitative"}}
        }
      ]
    }
  ]
}
